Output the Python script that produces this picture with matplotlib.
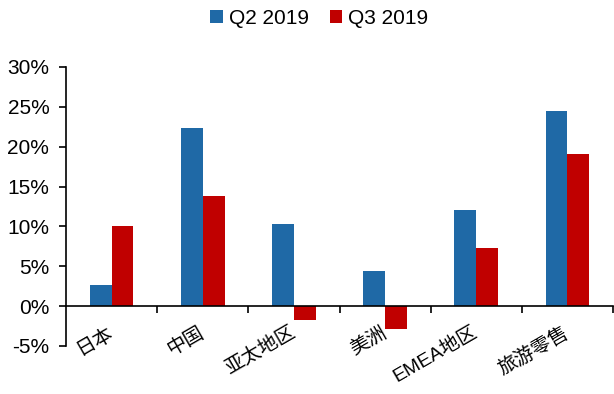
import numpy as np
import matplotlib
matplotlib.use("Agg")
import matplotlib.pyplot as plt
from matplotlib.ticker import FuncFormatter, FixedLocator

plt.rcParams['font.family'] = ['Liberation Sans', 'Noto Sans CJK SC', 'DejaVu Sans']

# regional growth, percent
regions = ['日本', '中国', '亚太地区', '美洲', 'EMEA地区', '旅游零售']
q2_2019 = [2.7, 22.3, 10.3, 4.4, 12.0, 24.5]
q3_2019 = [10.1, 13.8, -1.8, -2.9, 7.3, 19.1]
series_names = ['Q2 2019', 'Q3 2019']

blue = '#1F69A6'
red = '#C00000'

fig = plt.figure(figsize=(6.14, 3.94), dpi=100)
ax = fig.add_axes([0.1075, 0.122, 0.891, 0.708])

x = np.arange(len(regions))
w = 0.24
ax.bar(x - w / 2, q2_2019, w, color=blue, label=series_names[0], zorder=2)
ax.bar(x + w / 2, q3_2019, w, color=red, label=series_names[1], zorder=2)

ax.set_xlim(-0.5, len(regions) - 0.5)
ax.set_ylim(-5, 30)
ax.set_yticks(np.arange(-5, 31, 5))
ax.yaxis.set_major_formatter(FuncFormatter(lambda v, p: f'{v:.0f}%'))
ax.tick_params(axis='y', labelsize=15, length=5, width=1.2, pad=7, direction='out')

# x axis runs along zero, ticks sit between categories
ax.spines['top'].set_visible(False)
ax.spines['right'].set_visible(False)
ax.spines['bottom'].set_position(('data', 0))
ax.spines['left'].set_linewidth(1.2)
ax.spines['bottom'].set_linewidth(1.2)
ax.xaxis.set_major_locator(FixedLocator(np.arange(0.5, len(regions), 1.0)))
ax.xaxis.set_major_formatter(FuncFormatter(lambda v, p: ''))
ax.tick_params(axis='x', length=5, width=1.2, direction='out')

for i, name in enumerate(regions):
    ax.text(i - 0.05, -2.2, name, rotation=30, ha='right', va='top',
            rotation_mode='anchor', fontsize=14,
            family=['Liberation Sans', 'Noto Sans CJK SC'], fontweight='light')

fig.legend(loc='upper center', bbox_to_anchor=(0.52, 1.025), ncol=2, frameon=False,
           fontsize=15, handlelength=0.6, handleheight=0.6, handletextpad=0.3,
           columnspacing=1.0)

fig.savefig('out.png', dpi=100)
